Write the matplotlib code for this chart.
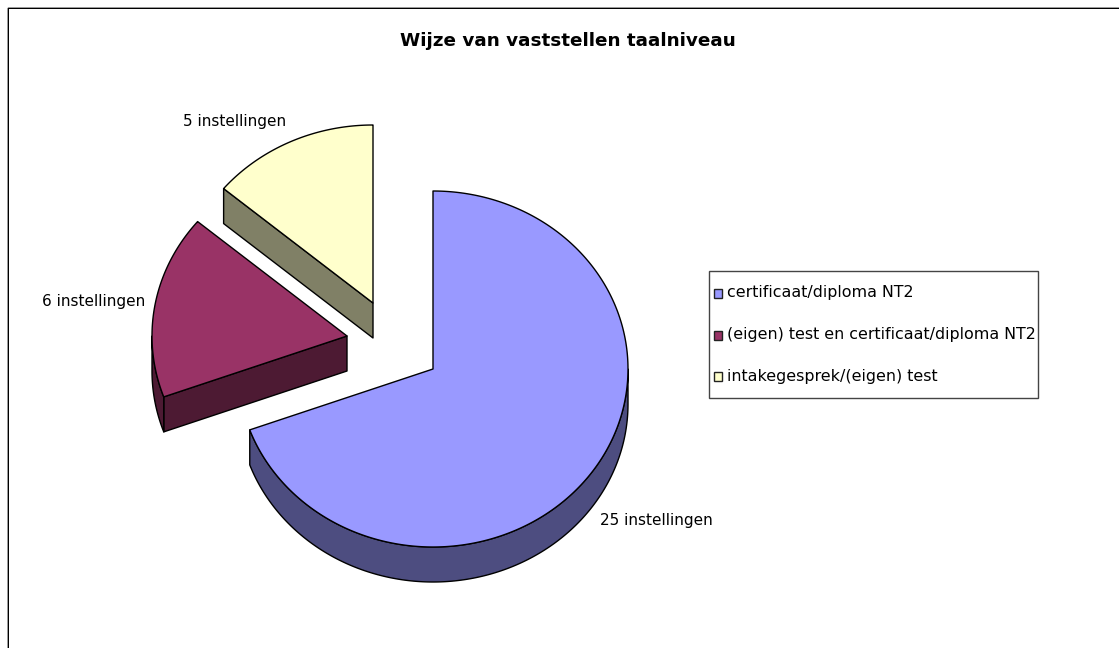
import numpy as np
import matplotlib
matplotlib.use("Agg")
import matplotlib.pyplot as plt
from matplotlib.patches import Polygon, Rectangle

title = "Wijze van vaststellen taalniveau"
categories = ["certificaat/diploma NT2", "(eigen) test en certificaat/diploma NT2", "intakegesprek/(eigen) test"]
values = [25, 6, 5]
data_labels = ["25 instellingen", "6 instellingen", "5 instellingen"]
top_colors = ["#9999FF", "#993366", "#FFFFCC"]
side_colors = ["#4D4D80", "#4D1A33", "#808066"]
apexes = [(433, 369), (347, 336), (373, 303)]
label_pos = [(600, 521), (145, 301.5), (286, 121.5)]
label_ha = ["left", "right", "right"]

RX, RY, DEPTH = 195, 178, 35
plt.rcParams["font.family"] = "DejaVu Sans"

fig = plt.figure(figsize=(11.19, 6.48), dpi=100)
ax = fig.add_axes([0, 0, 1, 1])
ax.set_xlim(0, 1119)
ax.set_ylim(648, 0)
ax.axis("off")

# chart frame: only left and top edges show, the rest runs off the picture
ax.plot([8.3, 8.3, 1125], [660, 8.3, 8.3], color="black", lw=1.0, zorder=1, snap=False)

def rim(a, t):
    return a[0] + RX * np.sin(t), a[1] - RY * np.cos(t)

total = sum(values)
bounds = np.deg2rad(np.cumsum([0] + values) / total * 360)
EC = dict(edgecolor="black", linewidth=1.0, joinstyle="round")

for i in [2, 1, 0]:
    a = apexes[i]
    t0, t1 = bounds[i], bounds[i + 1]
    z = 3 + (2 - i) * 3
    # flat cut wall, visible when it faces the viewer
    if i in (1, 2):
        x, y = rim(a, t0)
        ax.add_patch(Polygon([a, (x, y), (x, y + DEPTH), (a[0], a[1] + DEPTH)],
                             closed=True, facecolor=side_colors[i], zorder=z, **EC))
    # curved outer wall: the part of the rim on the front half
    lo, hi = max(t0, np.pi / 2), min(t1, 3 * np.pi / 2)
    if hi > lo:
        ts = np.linspace(lo, hi, 240)
        x, y = rim(a, ts)
        pts = np.r_[np.c_[x, y], np.c_[x, y + DEPTH][::-1]]
        ax.add_patch(Polygon(pts, closed=True, facecolor=side_colors[i], zorder=z + 1, **EC))
    # top face
    ts = np.linspace(t0, t1, 360)
    x, y = rim(a, ts)
    pts = np.r_[[a], np.c_[x, y]]
    ax.add_patch(Polygon(pts, closed=True, facecolor=top_colors[i], zorder=z + 2, **EC))

for lab, (x, y), ha in zip(data_labels, label_pos, label_ha):
    ax.text(x, y, lab, ha=ha, va="center", fontsize=11, color="black", zorder=20)

ax.text(567.5, 41, title, ha="center", va="center", fontsize=13.2, fontweight="bold", color="black", zorder=20)

# legend
ax.add_patch(Rectangle((709, 270.5), 329, 127, facecolor="white", edgecolor="#444444", lw=1.0, zorder=10))
for cat, col, yc in zip(categories, top_colors, [293, 335, 376.5]):
    ax.add_patch(Rectangle((714, yc - 4.5), 8, 9, facecolor=col, edgecolor="#222222", lw=1.0, zorder=11))
    ax.text(727, yc - 0.5, cat, ha="left", va="center", fontsize=11.45, color="black", zorder=12)

fig.savefig("out.png", dpi=100, facecolor="white")
